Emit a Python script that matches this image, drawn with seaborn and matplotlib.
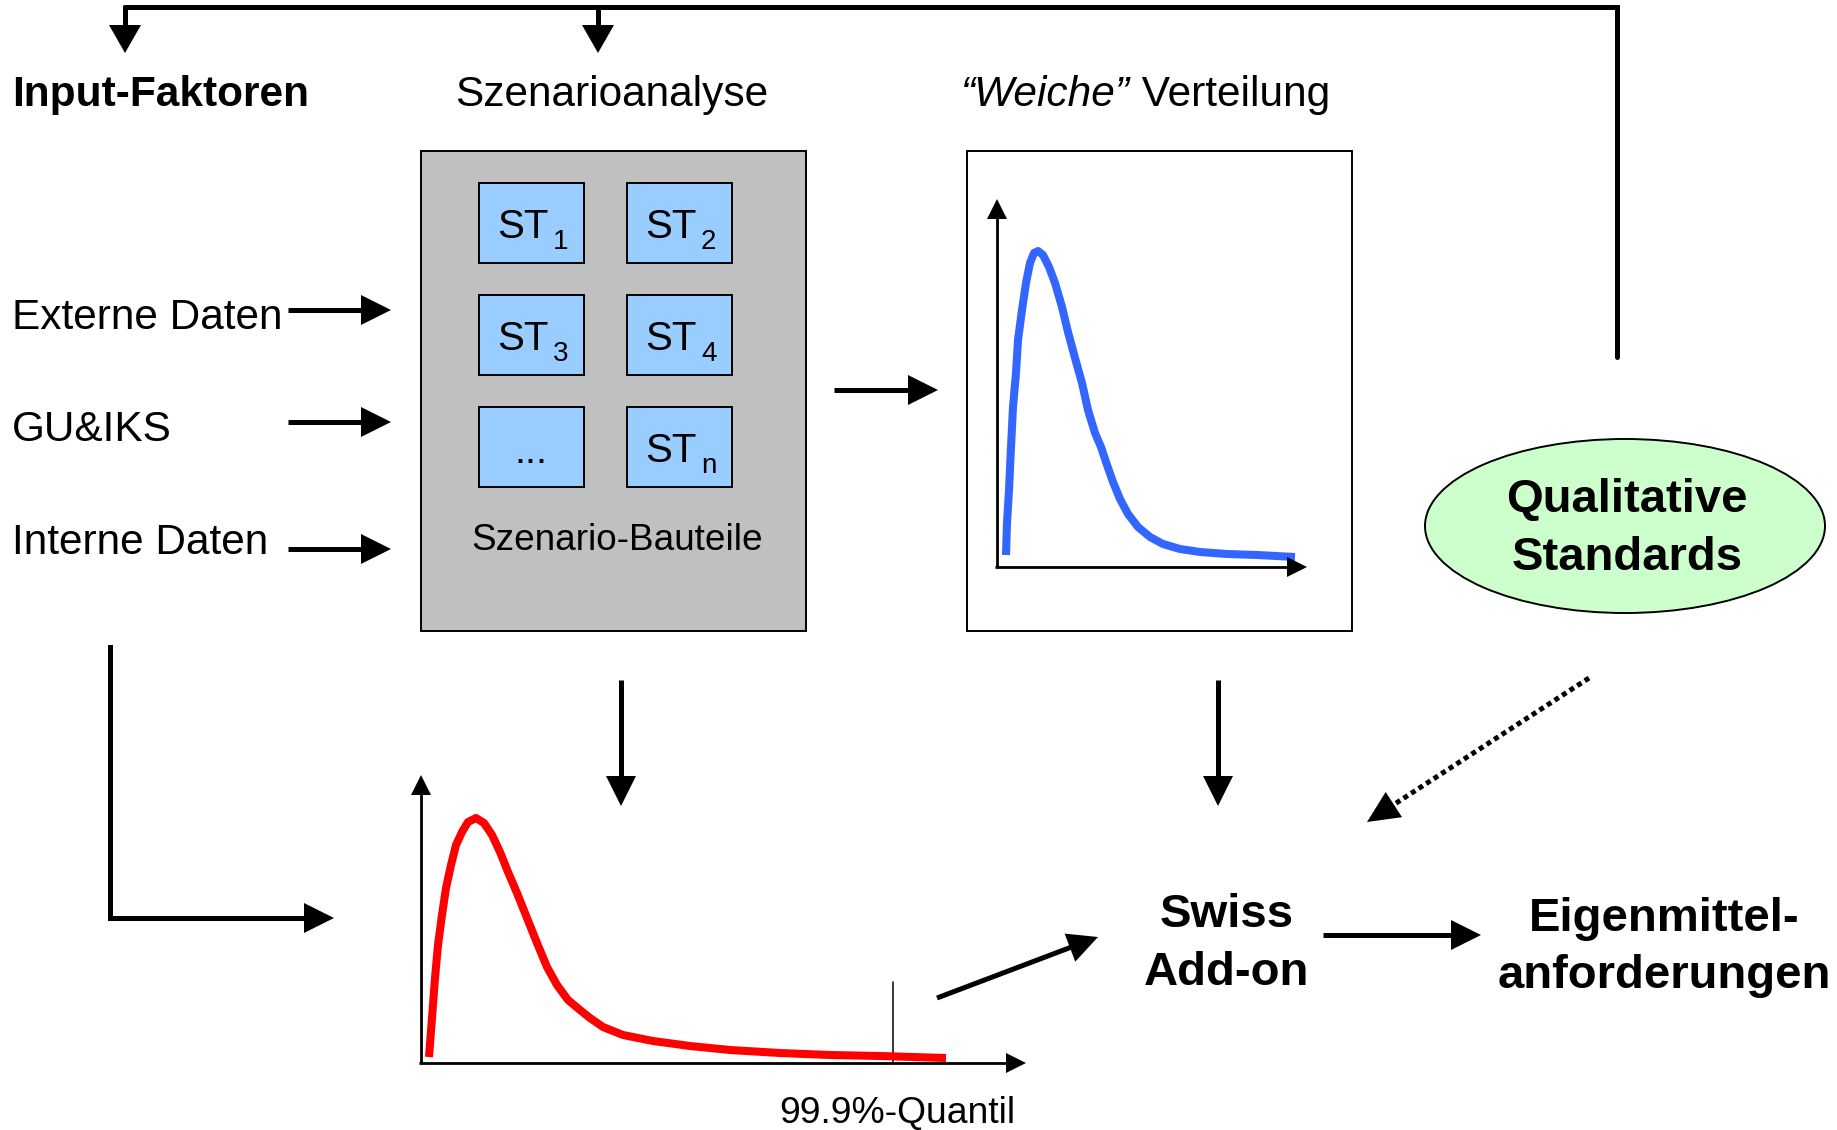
import numpy as np
import matplotlib
matplotlib.use("Agg")
import matplotlib.pyplot as plt
import seaborn as sns
from matplotlib.patches import Rectangle, Ellipse, Polygon

sns.set_theme(style="white")
plt.rcParams['font.family'] = ['Liberation Sans', 'DejaVu Sans']
plt.rcParams['text.color'] = 'black'

# labels
input_labels = ["Externe Daten", "GU&IKS", "Interne Daten"]
st_labels = [("ST", "1"), ("ST", "2"), ("ST", "3"), ("ST", "4"), ("...", ""), ("ST", "n")]

# "weiche" distribution (pixel coords)
soft_x = [1006, 1007, 1009, 1011, 1013, 1016, 1018, 1022, 1026, 1030, 1034, 1038,
          1043, 1049, 1055, 1062, 1068, 1075, 1082, 1088, 1095, 1101, 1107, 1113,
          1120, 1128, 1138, 1150, 1163, 1180, 1200, 1227, 1257, 1295]
soft_y = [555, 523, 490, 447, 407, 373, 340, 310, 283, 263, 253, 251,
          255, 267, 283, 307, 332, 358, 383, 410, 433, 447, 465, 482,
          499, 514, 527, 537, 544, 549, 552, 554, 555, 557]

# loss distribution (red)
loss_x = [429, 432, 435, 438, 442, 446, 451, 456, 462, 468, 476, 484, 492, 500,
          508, 517, 527, 537, 547, 557, 568, 580, 590, 603, 623, 653, 690, 730,
          780, 830, 880, 946]
loss_y = [1057, 1018, 978, 945, 915, 888, 865, 845, 832, 822, 818, 823, 835, 852,
          872, 893, 918, 943, 967, 985, 1000, 1010, 1018, 1027, 1035, 1041, 1046, 1050,
          1053, 1055, 1056, 1058]
quantile_x = 893

fig = plt.figure(figsize=(18.37, 11.30), dpi=100)
ax = fig.add_axes([0, 0, 1, 1])
ax.set_xlim(0, 1837)
ax.set_ylim(1130, 0)
ax.axis('off')

LW = 3.6


def arrow(x0, y0, x1, y1, lw=LW, hl=30, hw=30, ls='-'):
    d = np.array([x1 - x0, y1 - y0], float)
    u = d / np.hypot(*d)
    n = np.array([-u[1], u[0]])
    base = np.array([x1, y1]) - u * hl
    ax.plot([x0, base[0] + u[0] * 2], [y0, base[1] + u[1] * 2], color='black',
            lw=lw, ls=ls, solid_capstyle='butt')
    tri = [(x1, y1), base + n * hw / 2, base - n * hw / 2]
    ax.add_patch(Polygon(tri, closed=True, facecolor='black', lw=0, zorder=3))


# top feedback line
ax.plot([125, 1617, 1617], [7, 7, 357], color='black', lw=LW, solid_joinstyle='miter')
arrow(125, 5, 125, 53, hl=28, hw=32)
arrow(598, 5, 598, 53, hl=28, hw=32)

# headings
ax.text(12, 95, "Input-Faktoren", fontsize=30.5, fontweight='bold', va='center', ha='left')
ax.text(612, 95, "Szenarioanalyse", fontsize=30.5, va='center', ha='center')
renderer = fig.canvas.get_renderer()
t1 = ax.text(961, 95, "\u201cWeiche\u201d", fontsize=30.5, style='italic', va='center', ha='left')
bb = t1.get_window_extent(renderer)
x_after = ax.transData.inverted().transform((bb.x1, bb.y0))[0]
ax.text(x_after, 95, " Verteilung", fontsize=30.5, va='center', ha='left')

# input factors
for lab, y, ya in zip(input_labels, [318, 430, 543], [310, 422, 549]):
    ax.text(12, y, lab, fontsize=30.5, va='center', ha='left')
    arrow(288, ya, 391, ya)

# scenario box
ax.add_patch(Rectangle((421, 151), 385, 480, facecolor='#C0C0C0', edgecolor='black', lw=1.4))
bx = [479, 627]
by = [183, 295, 407]
for i, (main, sub) in enumerate(st_labels):
    x0 = bx[i % 2]
    y0 = by[i // 2]
    ax.add_patch(Rectangle((x0, y0), 105, 80, facecolor='#99CCFF', edgecolor='black', lw=1.4))
    if sub:
        ax.text(x0 + 18, y0 + 55, main, fontsize=29, va='baseline', ha='left')
        ax.text(x0 + 74, y0 + 66, sub, fontsize=20, va='baseline', ha='left')
    else:
        ax.text(x0 + 52, y0 + 56, main, fontsize=28.5, va='baseline', ha='center')
ax.text(617, 541, "Szenario-Bauteile", fontsize=26.6, va='center', ha='center')

arrow(834, 390, 938, 390)

# soft distribution panel
ax.add_patch(Rectangle((967, 151), 385, 480, facecolor='white', edgecolor='black', lw=1.4))
arrow(997, 567, 997, 199, lw=2, hl=20, hw=20)
arrow(995, 567, 1307, 567, lw=2, hl=20, hw=20)
sns.lineplot(x=soft_x, y=soft_y, ax=ax, color='#3366FF', lw=5.8, sort=False, estimator=None)
ax.lines[-1].set_solid_capstyle('butt')
ax.lines[-1].set_solid_joinstyle('round')

# qualitative standards
ax.add_patch(Ellipse((1625, 526), 400, 174, facecolor='#CCFFCC', edgecolor='black', lw=1.4))
ax.text(1627, 500, "Qualitative", fontsize=34, fontweight='bold', va='center', ha='center')
ax.text(1627, 558, "Standards", fontsize=34, fontweight='bold', va='center', ha='center')

# left L-arrow
ax.plot([110, 110], [647, 918], color='black', lw=LW, solid_capstyle='projecting')
arrow(108, 918, 334, 918)

# down arrows
arrow(621, 680, 621, 806)
arrow(1218, 680, 1218, 806)

# loss distribution panel
arrow(421, 1063, 421, 775, lw=2, hl=20, hw=20)
arrow(419, 1063, 1026, 1063, lw=2, hl=20, hw=20)
ax.plot([quantile_x, quantile_x], [982, 1063], color='black', lw=1.1)
sns.lineplot(x=loss_x, y=loss_y, ax=ax, color='#FF0000', lw=5.8, sort=False, estimator=None)
ax.lines[-1].set_solid_capstyle('butt')
ax.lines[-1].set_solid_joinstyle('round')
ax.text(897, 1114, "99.9%-Quantil", fontsize=26.8, va='center', ha='center')

# to Swiss Add-on
arrow(937, 998, 1098, 937)
arrow(1589, 678, 1367, 822, ls=(0, (1, 0.8)), hl=32, hw=30)
ax.text(1227, 915, "Swiss", fontsize=34, fontweight='bold', va='center', ha='center')
ax.text(1227, 973, "Add-on", fontsize=34, fontweight='bold', va='center', ha='center')
arrow(1323, 935, 1481, 935)
ax.text(1664, 919, "Eigenmittel-", fontsize=34, fontweight='bold', va='center', ha='center')
ax.text(1664, 976, "anforderungen", fontsize=34, fontweight='bold', va='center', ha='center')

fig.savefig("out.png", dpi=100, facecolor='white')
